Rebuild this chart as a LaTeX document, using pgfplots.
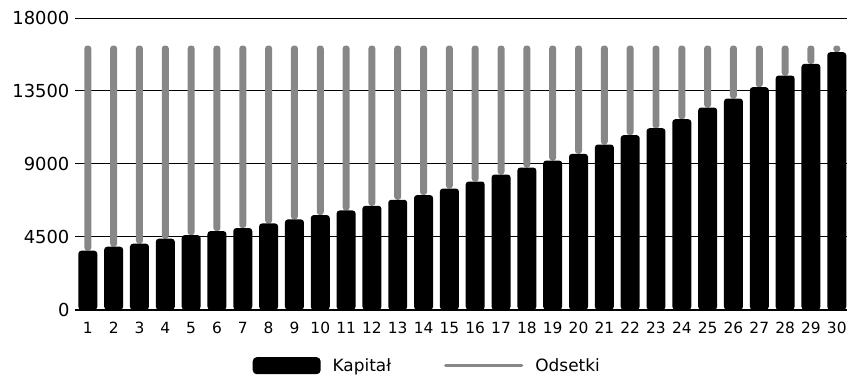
\documentclass[border=0pt]{standalone}
\usepackage{pgfplots}
\usepackage{pgfplotstable}
\usepackage{fontspec}
\setmainfont{DejaVu Sans}
\pgfplotsset{compat=1.18}
\definecolor{odsgrey}{HTML}{878787}
\pgfplotstableread{
x kap ods
1 3637 12663
2 3884 12416
3 4069 12231
4 4377 11923
5 4600 11700
6 4850 11450
7 5035 11265
8 5320 10980
9 5570 10730
10 5838 10462
11 6121 10179
12 6411 9889
13 6781 9519
14 7071 9229
15 7477 8823
16 7909 8391
17 8340 7960
18 8772 7528
19 9203 7097
20 9618 6682
21 10191 6109
22 10770 5530
23 11199 5101
24 11754 4546
25 12475 3825
26 13027 3273
27 13729 2571
28 14447 1853
29 15166 1134
30 15888 412
}\data
\begin{document}
\begin{tikzpicture}
\begin{axis}[
  scale only axis,
  width=773bp, height=292bp,
  ybar stacked,
  xmin=0.5, xmax=30.4,
  ymin=0, ymax=18000,
  ytick={0,4500,9000,13500,18000},
  xtick={1,...,30},
  scaled ticks=false,
  axis x line*=bottom,
  axis y line*=left,
  x axis line style={line width=1.8bp, -},
  y axis line style={draw=none},
  major tick length=0pt,
  ymajorgrids,
  grid style={black, line width=0.9bp},
  /pgf/number format/assume math mode=true,
  /pgf/number format/set thousands separator={},
  yticklabel style={font=\fontsize{18}{18}\selectfont, xshift=-2bp},
  xticklabel style={font=\fontsize{15.5}{15.5}\selectfont, yshift=-11bp, inner sep=1bp},
  legend style={at={(0.23,-0.192)}, anchor=west, draw=none, fill=none,
    font=\fontsize{17}{17}\selectfont, legend columns=2, inner sep=0pt,
    /tikz/every odd column/.append style={column sep=10bp},
    /tikz/every even column/.append style={column sep=51bp},
    nodes={inner sep=2bp}},
  legend image code/.code={},
]
\addplot[fill=black, draw=none, bar width=19bp, rounded corners=3bp,
  legend image code/.code={\fill[black, rounded corners=4bp] (0bp,-8.5bp) rectangle (68bp,8.5bp);}]
  table[x=x, y=kap] {\data};
\addlegendentry{Kapitał}
\addplot[fill=odsgrey, draw=none, bar width=7bp, rounded corners=3bp,
  legend image code/.code={\draw[odsgrey, line width=3.5bp, line cap=round] (0bp,0bp) -- (76bp,0bp);}]
  table[x=x, y=ods] {\data};
\addlegendentry{Odsetki}
\end{axis}
\path (current axis.south west) ++(-75bp,-73bp) coordinate (bbl);
\path (current axis.north east) ++(0bp,18bp) coordinate (btr);
\path (bbl) rectangle (btr);
\end{tikzpicture}
\end{document}
